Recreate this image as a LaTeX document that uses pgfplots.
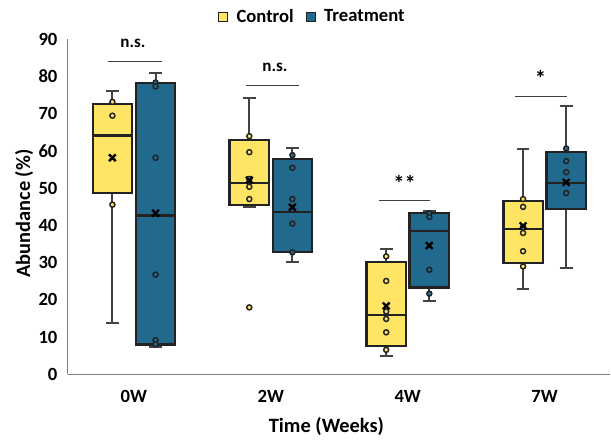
\documentclass[border=0pt]{standalone}
\usepackage{fontspec}
\setmainfont{Carlito}
\usepackage{pgfplots}
\pgfplotsset{compat=1.18}
\usepgfplotslibrary{statistics}
\definecolor{ctrl}{HTML}{FFE563}
\definecolor{treat}{HTML}{216A8D}
\definecolor{boxedge}{HTML}{222222}
\definecolor{axisgray}{HTML}{7F7F7F}
\definecolor{sigline}{HTML}{404040}
\newcommand{\sigfont}{\fontsize{12.8}{14}\selectfont\bfseries}
\newcommand{\starfont}{\fontsize{17}{18}\selectfont\bfseries}
\pgfplotsset{sq legend/.style={legend image code/.code={\draw[##1] (0pt,-3.4pt) rectangle (6.75pt,3.4pt); \path (11pt,0pt);}}}
\begin{document}
\begin{tikzpicture}
\begin{axis}[
  scale only axis, width=407.5pt, height=251.6pt,
  xmin=0.516, xmax=4.48, ymin=0, ymax=90,
  axis x line*=bottom, axis y line*=left,
  axis line style={draw=axisgray, line width=1.1pt},
  xtick={1,2,3,4}, xticklabels={0W,2W,4W,7W},
  ytick={0,10,20,30,40,50,60,70,80,90},
  major tick length=0pt,
  tick label style={font=\fontsize{14}{16}\selectfont\bfseries},
  /pgf/number format/assume math mode=true,
  yticklabel style={anchor=east, inner sep=0pt, xshift=-7.5pt},
  xticklabel style={anchor=center, inner sep=0pt, yshift=-16.5pt},
  xlabel={Time (Weeks)}, ylabel={Abundance (\%)},
  label style={font=\fontsize{15.3}{18}\selectfont\bfseries},
  xlabel style={at={(axis description cs:0.477,-0.155)}, anchor=center},
  ylabel style={at={(axis description cs:-0.0804,0.48)}, anchor=center},
  clip=false,
  legend style={at={(axis description cs:0.4515,1.067)}, anchor=center,
    draw=none, fill=none, legend columns=2,
    font=\fontsize{14}{16}\selectfont\bfseries,
    /tikz/every even column/.append style={column sep=7pt}},
  boxplot/draw direction=y,
  boxplot/box extend=0.288, boxplot/whisker extend=0.093,
  boxplot/every box/.style={/tikz/line width=1.8pt},
  boxplot/every median/.style={/tikz/line width=1.7pt},
  boxplot/every whisker/.style={/tikz/line width=1.5pt, /tikz/draw=boxedge!85},
]
\addlegendimage{sq legend, fill=ctrl, draw=boxedge, line width=0.9pt}
\addlegendentry{Control}
\addlegendimage{sq legend, fill=treat, draw=boxedge, line width=0.9pt}
\addlegendentry{Treatment}

% control boxes
\addplot[fill=ctrl, draw=boxedge, line width=1.8pt, boxplot prepared={draw position=0.843,
  lower whisker=13.7, lower quartile=48.7, median=64.2, upper quartile=72.6, upper whisker=76.2}] coordinates {};
\addplot[fill=ctrl, draw=boxedge, line width=1.8pt, boxplot prepared={draw position=1.843,
  lower whisker=45.1, lower quartile=45.5, median=51.4, upper quartile=63.0, upper whisker=74.3}] coordinates {};
\addplot[fill=ctrl, draw=boxedge, line width=1.8pt, boxplot prepared={draw position=2.843,
  lower whisker=4.9, lower quartile=7.6, median=16.0, upper quartile=30.2, upper whisker=33.6}] coordinates {};
\addplot[fill=ctrl, draw=boxedge, line width=1.8pt, boxplot prepared={draw position=3.843,
  lower whisker=22.9, lower quartile=29.9, median=39.0, upper quartile=46.6, upper whisker=60.5}] coordinates {};
% treatment boxes
\addplot[fill=treat, draw=boxedge, line width=1.8pt, boxplot prepared={draw position=1.158,
  lower whisker=7.3, lower quartile=8.0, median=42.7, upper quartile=78.3, upper whisker=81.0}] coordinates {};
\addplot[fill=treat, draw=boxedge, line width=1.8pt, boxplot prepared={draw position=2.158,
  lower whisker=30.3, lower quartile=32.8, median=43.7, upper quartile=57.9, upper whisker=60.8}] coordinates {};
\addplot[fill=treat, draw=boxedge, line width=1.8pt, boxplot prepared={draw position=3.158,
  lower whisker=19.6, lower quartile=23.3, median=38.5, upper quartile=43.4, upper whisker=44.0}] coordinates {};
\addplot[fill=treat, draw=boxedge, line width=1.8pt, boxplot prepared={draw position=4.158,
  lower whisker=28.7, lower quartile=44.4, median=51.4, upper quartile=59.8, upper whisker=72.1}] coordinates {};

% inner points
\addplot[only marks, mark=*, mark size=1.9pt, mark options={fill=ctrl, draw=boxedge, line width=1.1pt}]
  coordinates {(0.843,73.2)(0.843,69.5)(0.843,45.6)
    (1.843,64.0)(1.843,59.7)(1.843,52.5)(1.843,50.4)(1.843,47.1)(1.843,18.0)
    (2.843,31.7)(2.843,25.1)(2.843,16.9)(2.843,14.9)(2.843,11.3)(2.843,6.6)
    (3.843,47.1)(3.843,45.0)(3.843,39.6)(3.843,38.0)(3.843,33.1)(3.843,29.0)};
\addplot[only marks, mark=*, mark size=1.9pt, mark options={fill=treat, draw=boxedge, line width=1.1pt}]
  coordinates {(1.158,78.4)(1.158,77.4)(1.158,58.2)(1.158,26.8)(1.158,9.2)(1.158,8.1)
    (2.158,58.9)(2.158,55.5)(2.158,47.1)(2.158,40.5)(2.158,32.8)
    (3.158,43.3)(3.158,42.3)(3.158,28.1)(3.158,21.7)
    (4.158,60.7)(4.158,57.3)(4.158,54.3)(4.158,48.7)};
% means
\addplot[only marks, mark=x, mark size=3.6pt, mark options={draw=black, line width=1.8pt}]
  coordinates {(0.843,58.2)(1.843,52.2)(2.843,18.4)(3.843,39.9)
    (1.158,43.3)(2.158,44.9)(3.158,34.6)(4.158,51.6)};

% significance
\draw[sigline, line width=1pt] (axis cs:0.810,84.0) -- (axis cs:1.204,84.0);
\node[font=\sigfont] at (axis cs:0.993,88.8) {n.s.};
\draw[sigline, line width=1pt] (axis cs:1.822,77.6) -- (axis cs:2.206,77.6);
\node[font=\sigfont] at (axis cs:2.03,82.6) {n.s.};
\draw[sigline, line width=1pt] (axis cs:2.787,46.7) -- (axis cs:3.166,46.7);
\node[font=\starfont] at (axis cs:2.977,51.2) {**};
\draw[sigline, line width=1pt] (axis cs:3.786,74.6) -- (axis cs:4.166,74.6);
\node[font=\starfont] at (axis cs:3.97,79.4) {*};
% page frame
\path (axis description cs:-0.1247,-0.1938) rectangle (axis description cs:1,1.1176);
\end{axis}
\end{tikzpicture}
\end{document}
